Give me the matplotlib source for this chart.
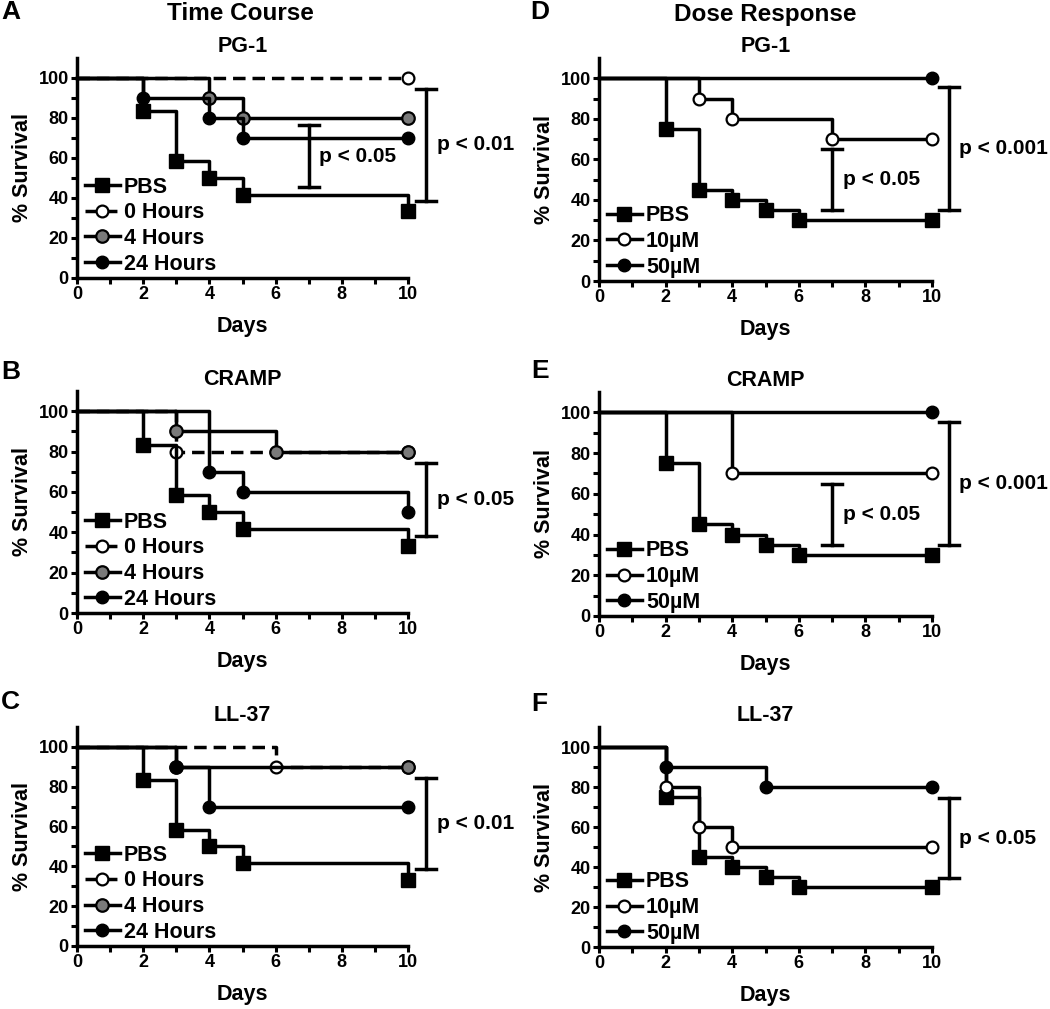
import matplotlib

matplotlib.use("Agg")
import matplotlib.pyplot as plt
from matplotlib.ticker import MultipleLocator

plt.rcParams["font.family"] = ["Liberation Sans", "DejaVu Sans"]
plt.rcParams["font.weight"] = "bold"

FIG_W, FIG_H = 1050, 1009

# Kaplan-Meier style survival data (days, % survival)
PBS_TC_DAYS = [0, 2, 3, 4, 5, 10]
PBS_TC_SURV = [100, 83.3, 58.3, 50, 41.7, 33.3]
PBS_DR_DAYS = [0, 2, 3, 4, 5, 6, 10]
PBS_DR_SURV = [100, 75, 45, 40, 35, 30, 30]

A_0H_DAYS, A_0H_SURV = [0, 10], [100, 100]
A_4H_DAYS, A_4H_SURV = [0, 4, 5, 10], [100, 90, 80, 80]
A_24H_DAYS, A_24H_SURV = [0, 2, 4, 5, 10], [100, 90, 80, 70, 70]

B_0H_DAYS, B_0H_SURV = [0, 3, 10], [100, 80, 80]
B_4H_DAYS, B_4H_SURV = [0, 3, 6, 10], [100, 90, 80, 80]
B_24H_DAYS, B_24H_SURV = [0, 4, 5, 10], [100, 70, 60, 50]

C_0H_DAYS, C_0H_SURV = [0, 6, 10], [100, 90, 90]
C_4H_DAYS, C_4H_SURV = [0, 3, 10], [100, 90, 90]
C_24H_DAYS, C_24H_SURV = [0, 3, 4, 10], [100, 90, 70, 70]

D_10_DAYS, D_10_SURV = [0, 3, 4, 7, 10], [100, 90, 80, 70, 70]
D_50_DAYS, D_50_SURV = [0, 10], [100, 100]
E_10_DAYS, E_10_SURV = [0, 4, 10], [100, 70, 70]
E_50_DAYS, E_50_SURV = [0, 10], [100, 100]
F_10_DAYS, F_10_SURV = [0, 2, 3, 4, 10], [100, 80, 60, 50, 50]
F_50_DAYS, F_50_SURV = [0, 2, 5, 10], [100, 90, 80, 80]

TIME_LABELS = ["PBS", "0 Hours", "4 Hours", "24 Hours"]
DOSE_LABELS = ["PBS", "10\u00b5M", "50\u00b5M"]

# significance brackets: (day, low, high, text)
A_BRACKETS = [(7, 45.5, 76.5, "p < 0.05"), (10.55, 38.5, 94.5, "p < 0.01")]
B_BRACKETS = [(10.55, 38, 74.5, "p < 0.05")]
C_BRACKETS = [(10.55, 38.5, 84.5, "p < 0.01")]
D_BRACKETS = [(7, 35, 65, "p < 0.05"), (10.5, 35, 95.5, "p < 0.001")]
E_BRACKETS = [(7, 35, 65, "p < 0.05"), (10.5, 35, 95.5, "p < 0.001")]
F_BRACKETS = [(10.5, 34.5, 74.5, "p < 0.05")]

LW = 2.5
SQUARE = dict(marker="s", markersize=9.5, markerfacecolor="black", markeredgecolor="black")
OPEN = dict(marker="o", markersize=8.5, markerfacecolor="white", markeredgecolor="black", markeredgewidth=1.6)
GRAY = dict(marker="o", markersize=9, markerfacecolor="#7a7a7a", markeredgecolor="black", markeredgewidth=1.6)
FILLED = dict(marker="o", markersize=9, markerfacecolor="black", markeredgecolor="black")


def _axes(fig, left, top, right, bottom):
    return fig.add_axes([left / FIG_W, 1 - bottom / FIG_H, (right - left) / FIG_W, (bottom - top) / FIG_H])


def _curve(ax, days, surv, label, style, dashed=False):
    ax.plot(
        days,
        surv,
        drawstyle="steps-post",
        color="black",
        linewidth=LW,
        linestyle=(0, (3.6, 2.0)) if dashed else "-",
        markevery=slice(1, None),
        label=label,
        clip_on=False,
        zorder=2 if dashed else 3,
        **style,
    )


def _bracket(ax, x, low, high, text):
    cap = 0.3
    ax.plot([x, x], [low, high], color="black", linewidth=LW, clip_on=False)
    ax.plot([x - cap, x + cap], [low, low], color="black", linewidth=LW, clip_on=False)
    ax.plot([x - cap, x + cap], [high, high], color="black", linewidth=LW, clip_on=False)
    ax.text(x + 0.32, (low + high) / 2, text, fontsize=15, fontweight="bold", va="center", ha="left", clip_on=False)


def _style(ax, title):
    ax.set_xlim(0, 10)
    ax.set_ylim(0, 110)
    ax.spines["top"].set_visible(False)
    ax.spines["right"].set_visible(False)
    for side in ("left", "bottom"):
        ax.spines[side].set_linewidth(LW)
    ax.xaxis.set_major_locator(MultipleLocator(2))
    ax.xaxis.set_minor_locator(MultipleLocator(1))
    ax.set_yticks([0, 20, 40, 60, 80, 100])
    ax.set_yticks([10, 30, 50, 70, 90], minor=True)
    ax.tick_params(which="both", direction="out", length=4, width=2.2, labelsize=13, pad=2)
    ax.set_xlabel("Days", fontsize=15.5, fontweight="bold", labelpad=9)
    ax.set_ylabel("% Survival", fontsize=15.5, fontweight="bold", labelpad=4)
    ax.set_title(title, fontsize=15.5, fontweight="bold", pad=4)
    ax.legend(
        loc="lower left",
        bbox_to_anchor=(0.015, 0.0),
        frameon=False,
        fontsize=15.5,
        handlelength=1.6,
        handletextpad=0.2,
        labelspacing=0.22,
        borderaxespad=0.0,
        borderpad=0.15,
    )


def main():
    fig = plt.figure(figsize=(FIG_W / 100, FIG_H / 100), dpi=100)

    time_panels = [
        ("PG-1", 58, 278, (A_0H_DAYS, A_0H_SURV), (A_4H_DAYS, A_4H_SURV), (A_24H_DAYS, A_24H_SURV), A_BRACKETS),
        ("CRAMP", 391, 613, (B_0H_DAYS, B_0H_SURV), (B_4H_DAYS, B_4H_SURV), (B_24H_DAYS, B_24H_SURV), B_BRACKETS),
        ("LL-37", 727, 946, (C_0H_DAYS, C_0H_SURV), (C_4H_DAYS, C_4H_SURV), (C_24H_DAYS, C_24H_SURV), C_BRACKETS),
    ]
    for title, top, bottom, zero_h, four_h, day_h, brackets in time_panels:
        ax = _axes(fig, 77, top, 408, bottom)
        _curve(ax, PBS_TC_DAYS, PBS_TC_SURV, TIME_LABELS[0], SQUARE)
        _curve(ax, *zero_h, TIME_LABELS[1], OPEN, dashed=True)
        _curve(ax, *four_h, TIME_LABELS[2], GRAY)
        _curve(ax, *day_h, TIME_LABELS[3], FILLED)
        for bracket in brackets:
            _bracket(ax, *bracket)
        _style(ax, title)

    dose_panels = [
        ("PG-1", 58, 281, (D_10_DAYS, D_10_SURV), (D_50_DAYS, D_50_SURV), D_BRACKETS),
        ("CRAMP", 392, 616, (E_10_DAYS, E_10_SURV), (E_50_DAYS, E_50_SURV), E_BRACKETS),
        ("LL-37", 727, 947, (F_10_DAYS, F_10_SURV), (F_50_DAYS, F_50_SURV), F_BRACKETS),
    ]
    for title, top, bottom, low_dose, high_dose, brackets in dose_panels:
        ax = _axes(fig, 599, top, 932, bottom)
        _curve(ax, PBS_DR_DAYS, PBS_DR_SURV, DOSE_LABELS[0], SQUARE)
        _curve(ax, *low_dose, DOSE_LABELS[1], OPEN)
        _curve(ax, *high_dose, DOSE_LABELS[2], FILLED)
        for bracket in brackets:
            _bracket(ax, *bracket)
        _style(ax, title)

    fig.text(240 / FIG_W, 1 - 14 / FIG_H, "Time Course", fontsize=17.5, fontweight="bold", ha="center", va="center")
    fig.text(765 / FIG_W, 1 - 14 / FIG_H, "Dose Response", fontsize=17.5, fontweight="bold", ha="center", va="center")
    for letter, x, y in [("A", 1, 12), ("B", 1, 372), ("C", 1, 702), ("D", 530, 12), ("E", 531, 371), ("F", 531, 704)]:
        fig.text(x / FIG_W, 1 - y / FIG_H, letter, fontsize=19, fontweight="bold", ha="left", va="center")

    fig.savefig("out.png", dpi=100)


if __name__ == "__main__":
    main()
